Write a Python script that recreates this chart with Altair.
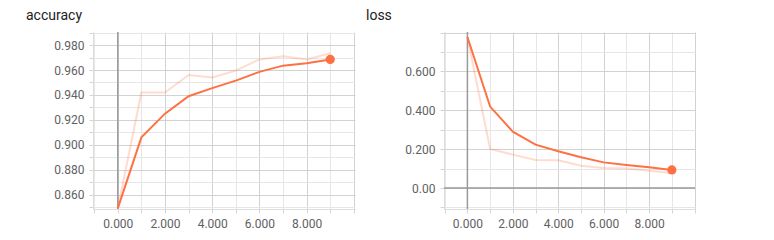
import altair as alt
import pandas as pd

# ---- data ----
steps = [0, 1, 2, 3, 4, 5, 6, 7, 8, 9]
acc_smooth = [0.849, 0.906, 0.925, 0.939, 0.9455, 0.9515, 0.9585, 0.9635, 0.9655, 0.9685]
acc_raw = [0.849, 0.942, 0.942, 0.956, 0.954, 0.9595, 0.9685, 0.971, 0.9685, 0.9735]
loss_smooth = [0.777, 0.419, 0.290, 0.223, 0.189, 0.158, 0.132, 0.119, 0.107, 0.093]
loss_raw = [0.777, 0.201, 0.172, 0.144, 0.143, 0.115, 0.103, 0.101, 0.089, 0.077]

x_ticks = [-1, 0, 1, 2, 3, 4, 5, 6, 7, 8, 9, 10]
acc_ticks = [0.85, 0.86, 0.87, 0.88, 0.89, 0.90, 0.91, 0.92, 0.93, 0.94, 0.95, 0.96, 0.97, 0.98, 0.99]
loss_ticks = [-0.1, 0.0, 0.1, 0.2, 0.3, 0.4, 0.5, 0.6, 0.7, 0.8]

ORANGE = "#ff7043"
LABEL = "#616161"
FONT = "Roboto"
X_EXPR = "datum.value >= 0 && datum.value <= 8 && datum.value % 2 == 0 ? format(datum.value, '.3f') : ''"


def axis_common(values, expr, grid_test):
    return alt.Axis(
        values=values,
        labelExpr=expr,
        domainColor="#dddddd",
        tickColor="#d4d4d4",
        tickSize=4,
        labelPadding=5,
        labelFont=FONT,
        labelFontSize=12,
        labelColor=LABEL,
        labelOverlap=False,
        labelFlush=False,
        grid=True,
        gridColor={"condition": {"test": grid_test, "value": "#d2d2d2"}, "value": "#e6e6e6"},
    )


def panel(title, smooth, raw, ydomain, yticks, ylabel_expr, ygrid_test, width, xdomain, title_dx, zero_h):
    df = pd.DataFrame({"step": steps, "smooth": smooth, "raw": raw})
    last = df.tail(1)
    zero = pd.DataFrame({"z": [0]})

    xscale = alt.Scale(domain=xdomain, nice=False, zero=False)
    xaxis = axis_common(x_ticks, X_EXPR, "datum.value % 2 == 0")
    yscale = alt.Scale(domain=ydomain, nice=False, zero=False)
    yaxis = axis_common(yticks, ylabel_expr, ygrid_test)

    def X(field):
        return alt.X(field, title=None, scale=xscale, axis=xaxis)

    def Y(field):
        return alt.Y(field, title=None, scale=yscale, axis=yaxis)

    raw_line = alt.Chart(df).mark_line(color=ORANGE, opacity=0.25, strokeWidth=2, clip=True).encode(
        x=X("step:Q"), y=Y("raw:Q")
    )
    smooth_line = alt.Chart(df).mark_line(color=ORANGE, strokeWidth=2, clip=True).encode(
        x=X("step:Q"), y=Y("smooth:Q")
    )
    dot = alt.Chart(last).mark_circle(color=ORANGE, opacity=1, size=85).encode(
        x=X("step:Q"), y=Y("smooth:Q")
    )
    vzero = alt.Chart(zero).mark_rule(color="#9a9a9a", strokeWidth=1.5).encode(x=X("z:Q"))
    layers = [vzero, raw_line]
    if zero_h:
        hzero = alt.Chart(zero).mark_rule(color="#9a9a9a", strokeWidth=1.5).encode(y=Y("z:Q"))
        layers.append(hzero)
    layers += [smooth_line, dot]
    return alt.layer(*layers).properties(
        width=width,
        height=177,
        title=alt.TitleParams(
            title,
            anchor="start",
            frame="group",
            dx=title_dx,
            font=FONT,
            fontSize=14,
            fontWeight="normal",
            color="#212121",
            baseline="alphabetic",
            offset=-7,
        ),
    )


acc = panel(
    "accuracy", acc_smooth, acc_raw, [0.8485, 0.9905], acc_ticks,
    "abs(round(datum.value*100)) % 2 == 0 && datum.value < 0.985 ? format(datum.value, '.3f') : ''",
    "abs(round(datum.value*100)) % 2 == 0",
    262, [-1.05, 10.05], -67, False,
)
loss = panel(
    "loss", loss_smooth, loss_raw, [-0.108, 0.803], loss_ticks,
    "abs(datum.value) < 0.001 ? '0.00' : (abs(round(datum.value*10)) % 2 == 0 && datum.value > 0 && datum.value < 0.75 ? format(datum.value, '.3f') : '')",
    "abs(round(datum.value*10)) % 2 == 0",
    251, [-1.03, 10.02], -78, True,
)

chart = alt.hconcat(acc, loss, spacing=11).properties(
    padding={"left": 26, "top": 8, "right": 5, "bottom": 5},
    background="white",
).configure_view(stroke=None)

chart.save("out.html", embed_options={"renderer": "svg", "actions": False})
